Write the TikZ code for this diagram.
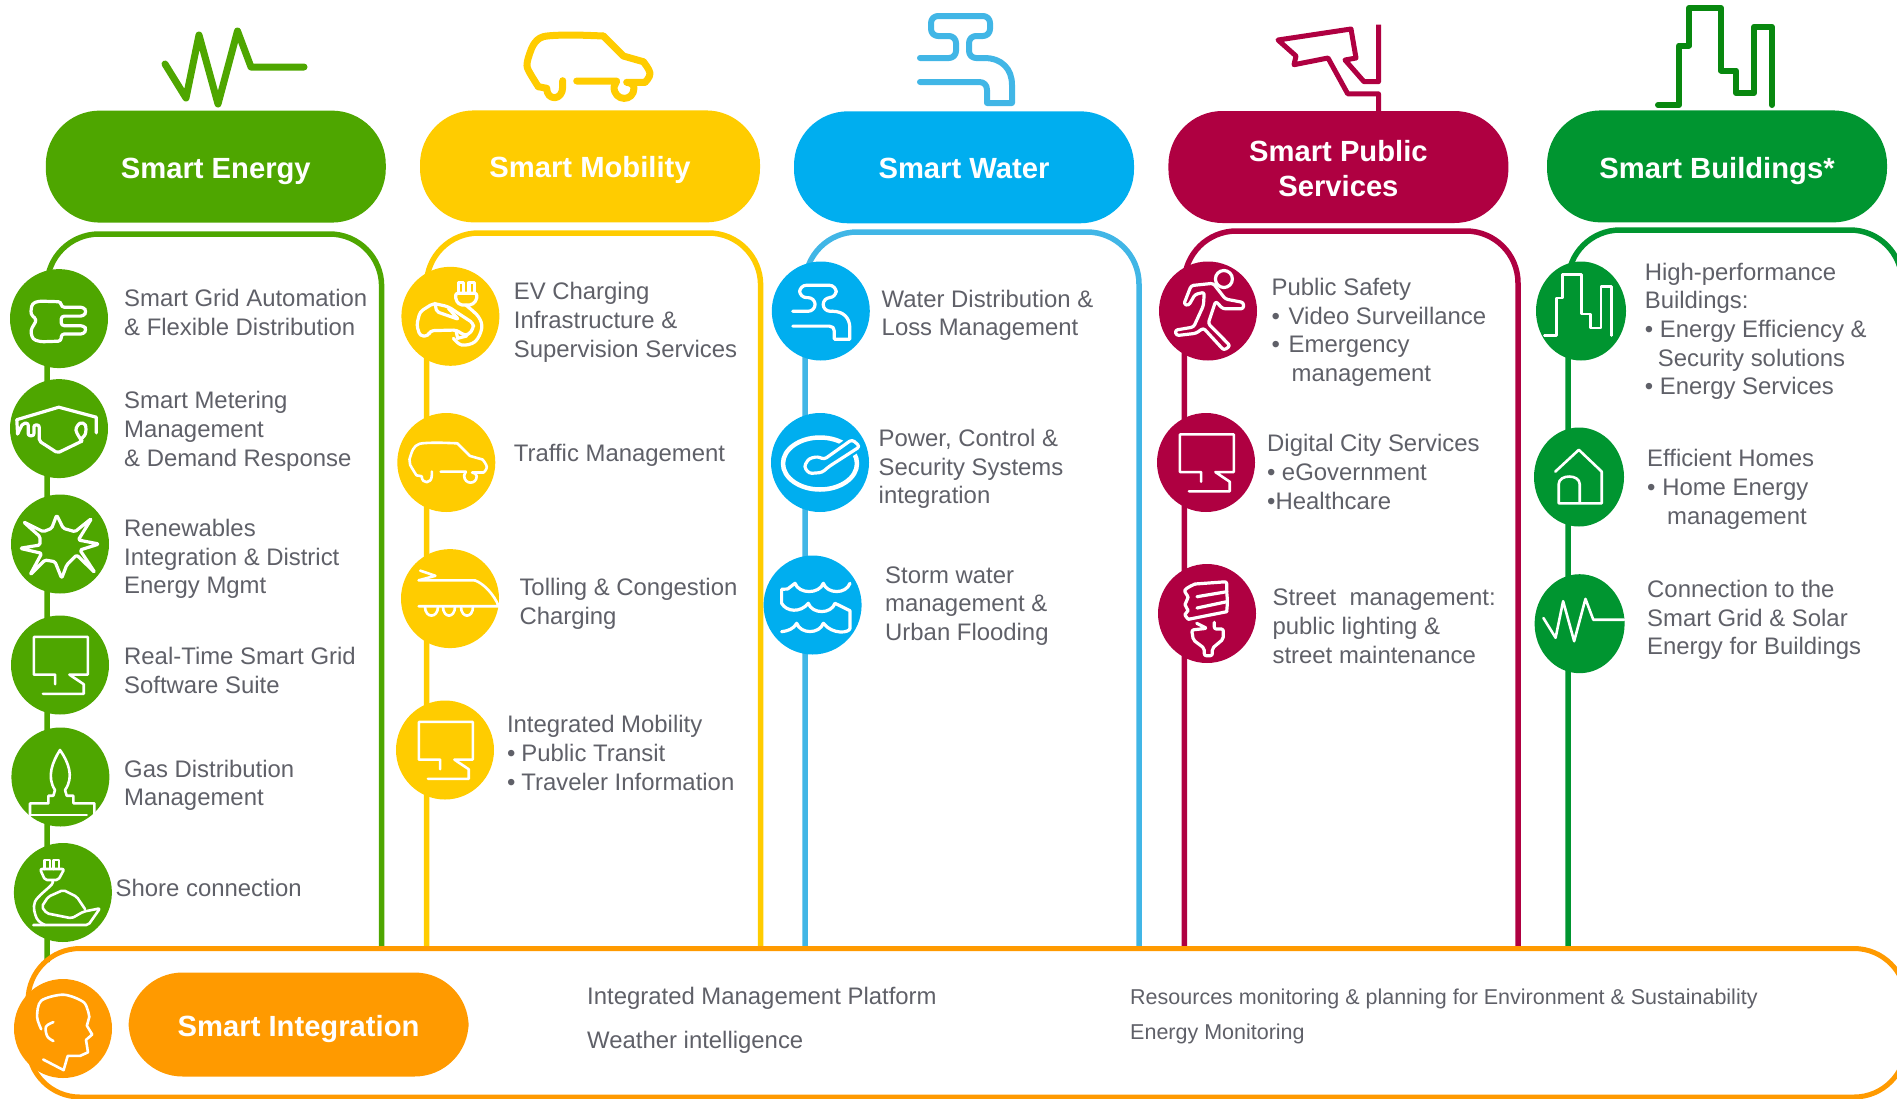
\documentclass[tikz,border=0pt]{standalone}
\usepackage{fontspec}
\setmainfont{Liberation Sans}
\usetikzlibrary{shapes.geometric}
\definecolor{cEnergy}{HTML}{4EA600}
\definecolor{cMob}{HTML}{FFCC00}
\definecolor{cWater}{HTML}{00AEEF}
\definecolor{cWaterL}{HTML}{41B6E6}
\definecolor{cPub}{HTML}{AF0041}
\definecolor{cBld}{HTML}{009530}
\definecolor{cBldH}{HTML}{08880F}
\definecolor{cInt}{HTML}{FF9A00}
\definecolor{txt}{HTML}{5F6068}
\newcommand{\blt}[1]{•\kern#1pt}
\tikzset{
 pillbox/.style={rectangle,rounded corners=54pt,minimum width=340pt,minimum height=112pt,inner sep=0pt,text=white,align=center,font=\fontsize{29.2}{35}\selectfont\bfseries},
 oneline/.style={text height=31pt,text depth=7pt},
 pilltext/.style={inner sep=0pt,text=white,align=center,font=\fontsize{29.2}{35}\selectfont\bfseries},
 disc/.style={ellipse,minimum width=98pt,minimum height=99pt,inner sep=0pt},
 lbl/.style={anchor=west,align=left,inner sep=0pt,text=txt,font=\fontsize{23.9}{28.6}\selectfont},
 lblsmall/.style={anchor=west,align=left,inner sep=0pt,text=txt,font=\fontsize{21.5}{26}\selectfont},
 frameline/.style={line width=5.5pt,rounded corners=52pt},
 ico/.style={white,yscale=-1,line width=3.2pt,line cap=round,line join=round},
 icosoft/.style={white,yscale=-1,line width=2.6pt,line cap=round,line join=round},
 head/.style={yscale=-1,line width=6pt,line cap=round,line join=round},
 pulseico/.pic={\draw (0,0)--(21,34)--(34,-29)--(53,40)--(72.5,-33)--(86,3)--(139,3);},
 carico/.pic={\draw (-27.3,15.7)--(-27.3,22) .. controls (-27.3,36) and (-43.3,36) .. (-43.3,23.3)--(-51.7,21.7);
  \draw plot[smooth,tension=.5] coordinates {(-51.7,21.7)(-61.7,5)(-62.7,-3.3)(-56.7,-20)(-46.7,-28.3)(-20,-30)(13.3,-29)};
  \draw (13.3,-29)--(33.3,-9)--(53.3,-3.3);
  \draw plot[smooth,tension=.7] coordinates {(53.3,-3.3)(60,8.3)(55,17.3)};
  \draw (-13.3,16)--(26.7,16)--(24,22) .. controls (24,37) and (44,37) .. (44,23) .. controls (44,20) and (40,17.3) .. (36.7,17.3)--(55,17.3);},
 tapico/.pic={\draw[rounded corners=7pt] (-46,-2)--(-10,-2)--(-10,-24)--(-35,-24)--(-35,-44)--(24,-44)--(24,-24)--(3,-24)--(3,-2)--(18,-2);
  \draw (18,-2) .. controls (36,-2) and (46,9) .. (46,25)--(46,43)--(21,43)--(21,30) .. controls (21,25) and (18,22) .. (13,22)--(-46,22);},
 bldico/.pic={\draw (-57,48.5)--(-36,48.5)--(-36,-11)--(-26,-11)--(-26,-48.5)--(6,-48.5)--(6,14)--(21,14)--(21,36.5)--(39,36.5)--(39,-29.7)--(57,-29.7)--(57,48.5);},
 monico/.pic={\draw (-4.9,19.2)--(-4.9,9.6)--(-26.1,9.6)--(-26.1,-28.1)--(27.8,-28.1)--(27.8,9.6)--(9.4,9.6)--(23.7,19.2)--(23.7,28.8)--(-17.1,28.8);},
 plugico/.pic={\draw[rounded corners=3pt] (2.2,-16.8)--(-20.2,-17.5)--(-27,-15)--(-28.4,-4.3)--(-22.2,1.1)--(-28.4,11.8)--(-26.3,20.7)--(-18.2,23.2)--(2.2,22.5)--(2.2,15.4)--(24.7,15.4)--(27.5,10.7)--(24.7,7.1)--(2.2,7.1)--(2.2,-2.5)--(24.7,-2.5)--(27.5,-7.1)--(24.7,-11.4)--(2.2,-11.4)--cycle;},
 meterico/.pic={\draw (-41.4,5.4)--(-42.2,-8.9)--(-0.2,-21.4)--(37.3,-11.4)--(37.3,4.3);
  \draw[rounded corners=2pt] (-41.4,5.4)--(-36.1,-5.4)--(-30.8,-5.4)--(-30.8,7.1)--(-25.1,7.1)--(-25.1,-3.6)--(-19.8,-3.6)--(-19.8,12.5)--(-1.4,24.3)--(23,12.5);
  \draw plot[smooth,tension=.6] coordinates {(23,12.5)(17,1.8)(21,-5.4)(26.3,-3.6)(26.3,5.4)(21,11.4)};},
 starico/.pic={\draw[rounded corners=1.5pt] (-3.3,-29)--(3.3,-15.7)--(15,-12.3)--(31.7,-25.7)--(18.3,-4)--(39,0)--(20,6)--(35,28.7)--(16.7,11)--(6.7,21)--(1.7,34.3)--(-5,17.7)--(-15,16)--(-30,31)--(-18.3,9.3)--(-40,4.3)--(-20,1)--(-20,-7.3)--(-36.7,-22.3)--(-16.7,-12.3)--(-8.3,-15.7)--cycle;},
 gasico/.pic={\draw (-5.4,13) .. controls (-14,0) and (-8,-15) .. (-0.4,-27) .. controls (8,-15) and (14,0) .. (4.6,13);
  \draw (-5.4,13)--(-7,18.7)--(-12,18.7)--(-12,26.3)--(-30.4,26.3)--(-30.4,38.7);
  \draw (4.6,13)--(6.3,18.7)--(13,18.7)--(13,26.3)--(34,26.3)--(34,38.7);
  \draw (-30.4,38)--(26.3,38);},
 shoreico/.pic={\draw[rounded corners=2pt] (-22.9,-23.5)--(-17.9,-12.5)--(-4.6,-12.5)--(1.4,-23.5)--cycle;
  \draw (-18.6,-23.5)--(-18.6,-32.5)--(-13,-32.5)--(-13,-23.5) (-9.5,-23.5)--(-9.5,-32.5)--(-3.9,-32.5)--(-3.9,-23.5);
  \draw plot[smooth,tension=.6] coordinates {(-11.2,-12.5)(-11.2,-8)(-27.9,9.2)(-26.2,25.8)(-17.9,32.5)};
  \draw[rounded corners=2pt] (-29.6,32.5)--(25.4,32.5)--(37.1,15.8)--(20.4,19.2)--(8.8,25.8)--(-16.2,20.8)--(-21.2,14.2)--(-14.6,4.2)--(0.4,-2.5)--(13.8,4.2)--(22.1,16.5);},
 headico/.pic={\draw plot[smooth,tension=.6] coordinates {(-9.6,-6.4)(-17,-1.8)(-15.7,7.8)(-9.6,12.5)};
  \draw plot[smooth,tension=.5] coordinates {(-21.8,0.7)(-25.9,-11.7)(-21.8,-27.8)(0.6,-33.8)(21,-26)(26.3,-11.7)};
  \draw (26.3,-11.7)--(23.9,-2.8)--(29.2,6)--(23,11.4)--(25,23.8)--(17,27.4)--(4.7,27.4)--(0.6,41.6)--(-19.8,31);},
 trainico/.pic={\draw (-29.8,-28)--(-14.6,-22.8)--(-31.4,-18.3)--(24.7,-18.3);
  \draw (24.7,-18.3) .. controls (34,-15) and (44,-4) .. (48.7,7.6)--(-31.4,7.6);
  \draw (-25,8) .. controls (-25,20) and (-12,20) .. (-12,8);
  \draw (-7,8) .. controls (-7,20) and (5,20) .. (5,8);
  \draw (11,8) .. controls (11,20) and (23,20) .. (23,8);},
 evico/.pic={\draw[rounded corners=2pt] (5.3,-23)--(26.3,-23)--(26.3,-16.3)--(21.3,-11.3)--(9.6,-11.3)--(5.3,-16.3)--cycle;
  \draw (8,-23)--(8,-33.6)--(13,-33.6)--(13,-23) (18.6,-23)--(18.6,-33.6)--(24,-33.6)--(24,-23);
  \draw plot[smooth,tension=.6] coordinates {(15.3,-11.3)(28,0.4)(31.3,12)(24.6,25.4)(11.3,28.7)(3,22)};
  \draw[rounded corners=3.5pt] (-22,19.7)--(-30.4,19.7)--(-33.7,8.7)--(-30.4,-4.6)--(-17,-13)--(-2,-9.6)--(13,0.4)--(23,7)--(23,12)--(18,18.7)--(13,18.7)--(6.3,13.7)--(-20.4,14.4)--cycle;
  \draw[rounded corners=2pt] (-15.4,-13)--(-13.7,-4.6)--(8,3)--(-2,-8);
  \draw (5.6,14.4)--(7.3,22)--(16.3,19.7);},
 gaugeico/.pic={\draw[line width=4.5pt] (0,1) ellipse [x radius=37pt,y radius=26pt];
  \draw[fill=cWater,rounded corners=3pt,draw=cWater,line width=8pt] (4,-3)--(32,-23)--(40,-16)--(9,4)--(2,10)--(-11,11)--(-16,4)--(-11,-4)--(-2,-6)--cycle;
  \draw[fill=cWater,rounded corners=3pt] (4,-3)--(32,-23)--(40,-16)--(9,4)--(2,10)--(-11,11)--(-16,4)--(-11,-4)--(-2,-6)--cycle;},
 waveico/.pic={\draw (-31,-1.7)--(-31,-15.7)--(-25,-16)--(-17.6,-21.7) .. controls +(4,11) and +(-4,11) .. (10.7,-21.7) .. controls +(4,11) and +(-4,11) .. (37.4,-21.7);
  \draw (-31,-1.7) .. controls (-26,7) and (-12,8) .. (-4.3,-1.7) .. controls +(4,11) and +(-4,11) .. (22.4,-1.7)--(37.4,5.7)--(37.4,23.3) .. controls (37,28) and (20,30) .. (10.7,18.3) .. controls +(-4,11) and +(4,11) .. (-15.9,18.3) .. controls (-19,24) and (-25,26) .. (-31,26.7);},
 runico/.pic={\draw[rounded corners=2.5pt] (-24.2,-6.7)--(-16.9,-25.4)--(5.1,-27.7)--(17.4,-12)--(35.5,-8.5)--(35.5,-2.2)--(14.9,-2.2)--(7.6,-9.8)--(0.2,12.5)--(22.2,34.8)--(15.9,39.3)--(-4.6,17)--(-12,22.3)--(-31.6,24.6)--(-33,19.2)--(-14.4,16)--(-4.6,-5.4)--(-3.7,-18.8)--(-13,-16.5)--(-19.4,-5.4)--cycle;
  \draw (15.9,-32) circle [radius=8.5pt];},
 bulbico/.pic={\draw[rounded corners=2pt] (19.7,-1.8)--(20.5,-12)--(19.7,-21.8)--(19.7,-31.8)--(-12,-29.5);
  \draw plot[smooth,tension=.6] coordinates {(-12,-29.5)(-22,-23.5)(-19,-16)(-22,-9)(-19,-3)(-22,1)(-18.7,5.8)};
  \draw (-18.7,5.8)--(19.7,-1.8) (-10,-16.8)--(19.7,-21.8) (-10,-5.5)--(19.7,-11.8);
  \draw[rounded corners=2pt] (-10.3,9.8)--(-0.3,14.8)--(-15.3,16.5)--(-13.7,26.5)--(-2.7,34.8)--(-2.7,42.2)--(5.3,42.2)--(5.3,34.8)--(16.3,25.5)--(16.3,15.5)--(7.3,15.5)--(7.3,8.8);},
 homeico/.pic={\draw (-23.7,-5.4)--(-0.2,-27.2)--(22.7,-5.4)--(22.7,26.3)--(-20.3,26.3)--(-20.3,7.1) .. controls (-20.3,-3) and (0.7,-3) .. (0.7,7.1)--(0.7,26.3);},
}
\begin{document}
\begin{tikzpicture}[x=1pt,y=1pt,yscale=-1]
\clip (0,0) rectangle (1897,1098);

% column frames
\draw[frameline,cEnergy] (47,962)--(47,234)--(381.6,234)--(381.6,950);
\draw[frameline,cMob] (426.5,950)--(426.5,233)--(760.6,233)--(760.6,950);
\draw[frameline,cWaterL] (805,950)--(805,232)--(1139,232)--(1139,950);
\draw[frameline,cPub] (1184.3,950)--(1184.3,231)--(1518,231)--(1518,950);
\draw[frameline,cBld] (1568,950)--(1568,230)--(1902,230)--(1902,950);
\draw[line width=5pt,cInt,rounded corners=52pt] (28,948.5) rectangle (1906,1097);

% header pills
\node[pillbox,oneline,fill=cEnergy] (hE) at (215.8,166.6) {Smart Energy};
\node[pillbox,oneline,text height=28.6pt,fill=cMob] (hM) at (590,166.4) {Smart Mobility};
\node[pillbox,oneline,text height=28.6pt,fill=cWater] (hW) at (964,167.3) {Smart Water};
\node[pillbox,fill=cPub] (hP) at (1338.4,167) {};
\node[pilltext] (hPt) at (1338.4,168.8) {Smart Public\\Services};
\node[pillbox,oneline,fill=cBld] (hB) at (1717,166.4) {Smart Buildings*};
\node[pillbox,oneline,fill=cInt,minimum height=104pt] (hI) at (298.6,1024.5) {Smart Integration};

% header icons
\pic[cEnergy,head,line width=7pt] at (165,64) {pulseico};
\pic[cMob,head,line width=7pt] at (590,65) {carico};
\pic[cWaterL,head] at (966,60) {tapico};
\pic[cBldH,head] at (1715,56.5) {bldico};
\draw[cPub,line width=5pt,line join=round] (1378.5,125)--(1378.5,93.8)--(1347.7,93.8)--(1328,58)--(1294,64.7)--(1296,56)--(1278,40)--(1351,29)--(1356,58)--(1345,60)--(1364,81.7)--(1378.5,81.7)--(1378.5,24.5);

% discs
\foreach \n/\x/\y/\c in {E1/59/318.6/cEnergy,E2/59/428.6/cEnergy,E3/60/544/cEnergy,E4/60/665/cEnergy,E5/60.4/777/cEnergy,E6/62.9/892.5/cEnergy,
 M1/450.4/316.3/cMob,M2/446.3/462.5/cMob,M3/450/598.6/cMob,M4/445/750/cMob,
 W1/820.8/311/cWater,W2/820/462.5/cWater,W3/812.6/605/cWater,
 P1/1208/311/cPub,P2/1206/462.5/cPub,P3/1207/613.5/cPub,I/63/1028.5/cInt}
  \node[disc,fill=\c] (d\n) at (\x,\y) {};
\foreach \n/\x/\y in {B1/1581/311,B2/1579/477,B3/1579.6/623.7}
  \node[disc,fill=cBld,minimum width=90pt] (d\n) at (\x,\y) {};

% disc icons
\pic[ico] at (59,318.6) {plugico};
\pic[ico] at (59,428.6) {meterico};
\pic[ico] at (60,544) {starico};
\pic[icosoft] at (60,665) {monico};
\pic[icosoft] at (60.4,777) {gasico};
\pic[icosoft] at (62.9,892.5) {shoreico};
\pic[icosoft] at (63,1028.5) {headico};
\pic[ico] at (450.4,316.3) {evico};
\pic[icosoft,scale=.63] at (449,461.6) {carico};
\pic[icosoft] at (450,598.6) {trainico};
\pic[icosoft] at (445,750) {monico};
\pic[ico,scale=.62] at (821.3,312.5) {tapico};
\pic[ico] at (820,462.5) {gaugeico};
\pic[ico] at (812.6,605) {waveico};
\pic[ico] at (1208,311) {runico};
\pic[icosoft] at (1206,462.5) {monico};
\pic[ico] at (1207,613.5) {bulbico};
\pic[icosoft,xscale=.59,yscale=.63] at (1578,305) {bldico};
\pic[icosoft] at (1579,477) {homeico};
\pic[icosoft,scale=.58] at (1543.4,618) {pulseico};

% labels
\node[lbl] (tE1) at (124,312.4) {Smart Grid Automation\\\& Flexible Distribution};
\node[lbl] (tE2) at (124,431.4) {Smart Metering\\Management\\\& Demand Response};
\node[lbl] (tE3) at (124,559.1) {Renewables\\Integration \& District\\Energy Mgmt};
\node[lbl] (tE4) at (124,670.6) {Real-Time Smart Grid\\Software Suite};
\node[lbl] (tE5) at (124,785.4) {Gas Distribution\\Management};
\node[lbl] (tE6) at (115.5,888.4) {Shore connection};

\node[lbl] (tM1) at (513.7,322.4) {EV Charging\\Infrastructure \&\\Supervision Services};
\node[lbl] (tM2) at (513.7,455.4) {Traffic Management};
\node[lbl] (tM3) at (519.3,604) {Tolling \& Congestion\\Charging};
\node[lbl] (tM4) at (506.8,753) {Integrated Mobility\\\blt{6}Public Transit\\\blt{6}Traveler Information};

\node[lbl] (tW1) at (881.5,315.4) {Water Distribution \&\\Loss Management};
\node[lbl] (tW2) at (878.5,469.1) {Power, Control \&\\Security Systems\\integration};
\node[lbl] (tW3) at (885,606) {Storm water\\management \&\\Urban Flooding};

\node[lbl] (tP1) at (1271.4,332.4) {Public Safety\\\blt{8.7}Video Surveillance\\\blt{8.7}Emergency\\\hspace*{20pt}management};
\node[lbl] (tP2) at (1267,472) {Digital City Services\\\blt{6.4}eGovernment\\•Healthcare};
\node[lbl] (tP3) at (1272.4,626.2) {Street\ \ management:\\public lighting \&\\street maintenance};

\node[lbl] (tB1) at (1644.6,331.4) {High-performance\\Buildings:\\\blt{6.7}Energy Efficiency \&\\\hspace*{13pt}Security solutions\\\blt{6.7}Energy Services};
\node[lbl] (tB2) at (1647,489.4) {Efficient Homes\\\blt{6.7}Home Energy\\\hspace*{20pt}management};
\node[lbl] (tB3) at (1647,620) {Connection to the\\Smart Grid \& Solar\\Energy for Buildings};

\node[lbl] (tI1) at (587,998.6) {Integrated Management Platform};
\node[lbl] (tI2) at (587,1042.2) {Weather intelligence};
\node[lblsmall] (tI3) at (1130,998.6) {Resources monitoring \& planning for Environment \& Sustainability};
\node[lblsmall] (tI4) at (1130,1033.6) {Energy Monitoring};
\end{tikzpicture}
\end{document}
